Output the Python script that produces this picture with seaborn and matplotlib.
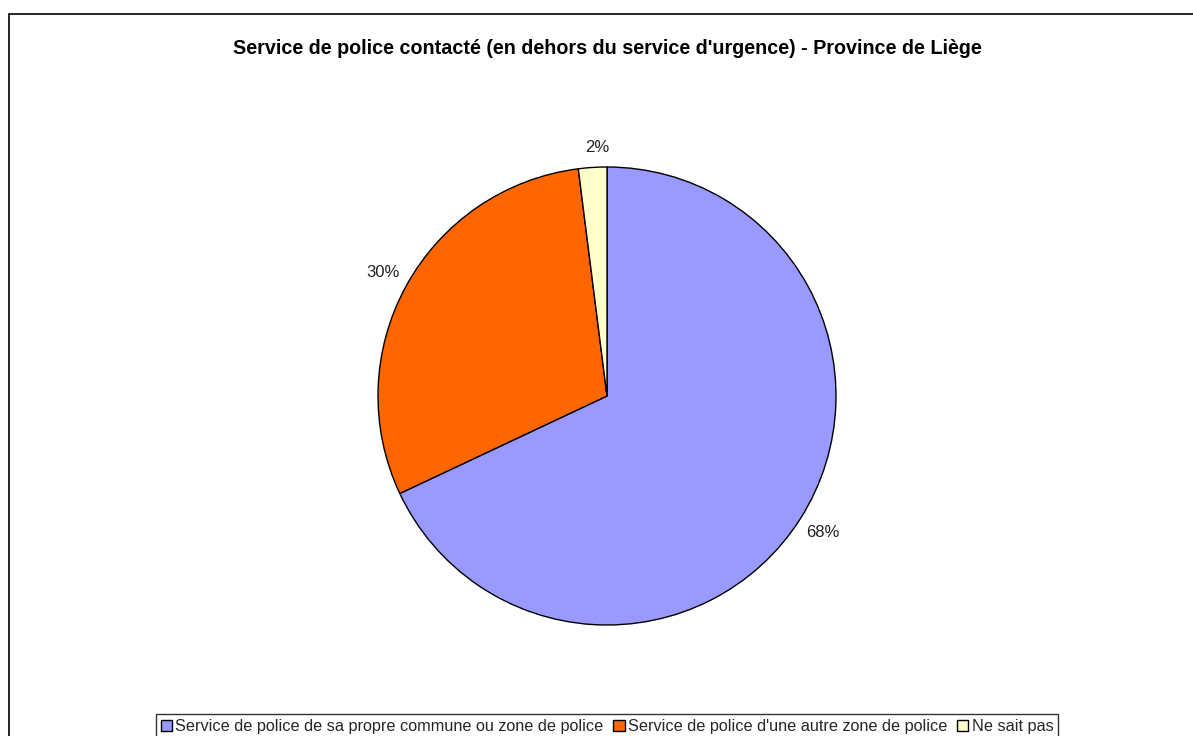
import matplotlib
matplotlib.use("Agg")
import matplotlib.pyplot as plt
from matplotlib.patches import Rectangle
import seaborn as sns

categories = [
    "Service de police de sa propre commune ou zone de police",
    "Service de police d'une autre zone de police",
    "Ne sait pas",
]
shares = [68, 30, 2]
colors = ["#9999FF", "#FF6600", "#FFFFCC"]
title = "Service de police contacté (en dehors du service d'urgence) - Province de Liège"

sns.set_theme(style="white")
plt.rcParams["font.family"] = ["Liberation Sans", "DejaVu Sans"]

W, H = 1193, 736
fig = plt.figure(figsize=(W / 100, H / 100), dpi=100)
fig.patch.set_facecolor("white")

# outer chart frame, running off the right and bottom edges
fig.patches.append(Rectangle((9 / W, -0.1), 1.2, 1 - 14 / H + 0.1,
                             transform=fig.transFigure, fill=False,
                             edgecolor="black", linewidth=1.2, zorder=0))

cx, cy, r = 607, 396, 229
ax = fig.add_axes([(cx - r) / W, (H - cy - r) / H, 2 * r / W, 2 * r / H])
wedges, texts, autotexts = ax.pie(
    shares, colors=colors, startangle=90, counterclock=False,
    wedgeprops=dict(edgecolor="black", linewidth=1.0),
    autopct=lambda p: f"{p:.0f}%", pctdistance=1.115,
    textprops=dict(fontsize=12, color="#222222"),
)
# the small slice label sits a little closer to the rim
x, y = autotexts[2].get_position()
autotexts[2].set_position((x * 0.6, y * 0.975))
ax.set_xlim(-1, 1)
ax.set_ylim(-1, 1)
ax.axis("off")

fig.text(cx / W, 1 - 48 / H, title, ha="center", va="center",
         fontsize=14.2, fontweight="bold", color="black")

leg = fig.legend(wedges, categories, loc="upper center",
                 bbox_to_anchor=(607 / W, 1 - 714 / H), ncol=3,
                 frameon=True, fancybox=False, fontsize=11.7,
                 handlelength=0.7, handleheight=0.7, handletextpad=0.2,
                 columnspacing=0.6, borderpad=0.3, borderaxespad=0)
leg.get_frame().set_edgecolor("black")
leg.get_frame().set_linewidth(1.0)

fig.savefig("out.png", dpi=100, facecolor="white")
